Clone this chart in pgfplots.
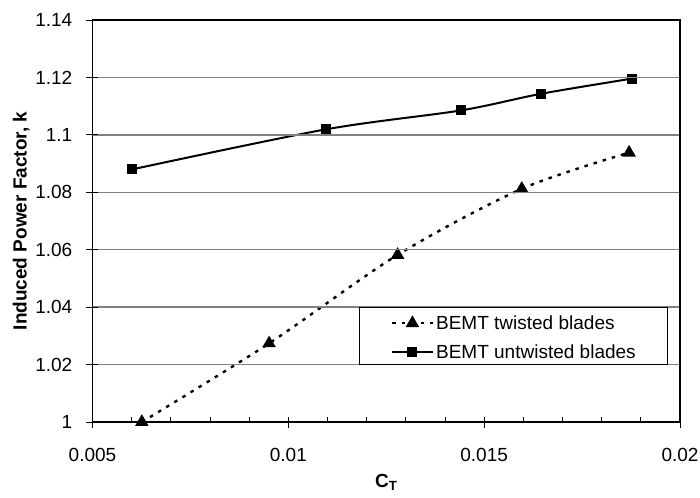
\documentclass[border=0pt]{standalone}
\usepackage{fontspec}
\setmainfont{Liberation Sans}
\usepackage{pgfplots}
\pgfplotsset{compat=1.18}
\begin{document}
\fontsize{19pt}{23pt}\selectfont
\begin{tikzpicture}
\useasboundingbox (-92.5pt,-75pt) rectangle (607.5pt,422pt);
\begin{axis}[
  at={(0pt,0pt)}, anchor=south west,
  scale only axis, width=587.5pt, height=402pt,
  xmin=0.005, xmax=0.02, ymin=1, ymax=1.14,
  axis line style={line width=1.2pt, black},
  axis on top,
  xtick={0.005,0.01,0.015,0.02},
  xticklabels={0.005,0.01,0.015,0.02},
  minor xtick={0.006,0.007,0.008,0.009,0.011,0.012,0.013,0.014,0.016,0.017,0.018,0.019},
  ytick={1,1.02,1.04,1.06,1.08,1.1,1.12,1.14},
  yticklabels={1,1.02,1.04,1.06,1.08,1.1,1.12,1.14},
  scaled x ticks=false, scaled y ticks=false,
  /pgf/number format/assume math mode=true,
  xtick pos=bottom, ytick pos=left,
  tick align=center,
  major tick length=11pt,
  minor tick length=5.5pt,
  tick style={black, line width=0.9pt},
  minor x tick style={yshift=2.75pt},
  major y tick style={xshift=-0.5pt},
  ymajorgrids,
  major grid style={gray, line width=1.3pt},
  xticklabel style={anchor=north, inner sep=0pt, yshift=-21pt},
  yticklabel style={anchor=east, inner sep=0pt, xshift=-14.5pt},
  xlabel={\bfseries C\textsubscript{T}},
  ylabel={\bfseries Induced Power Factor, k},
  every axis x label/.style={at={(axis description cs:0.5,-0.162)}, anchor=base},
  every axis y label/.style={at={(axis description cs:-0.112,0.5)}, rotate=90, anchor=base},
  clip mode=individual,
  legend cell align=left,
  legend style={at={(axis cs:0.0118,1.04)}, anchor=north west, draw=black,
    line width=0.8pt, fill=white, inner xsep=32pt, inner ysep=3pt, row sep=7pt,
    nodes={inner sep=0pt},
    /tikz/every odd column/.append style={column sep=2.5pt}},
  legend image code/.code={\draw[mark repeat=2,mark phase=2,#1] plot coordinates {(0pt,-1.7pt) (20pt,-1.7pt) (40pt,-1.7pt)};},
]
\addplot[black, line width=2.4pt, dash pattern=on 3.5pt off 6pt, smooth, mark=triangle*, mark size=5.4pt, mark options={solid}]
  coordinates {(0.00626,1.0000) (0.00951,1.0274) (0.01279,1.0582) (0.01596,1.0812) (0.01870,1.0938)};
\addlegendentry{\rule[-3.3pt]{0pt}{22.3pt}BEMT twisted blades}
\addplot[black, line width=2pt, smooth, mark=square*, mark size=4pt]
  coordinates {(0.00602,1.0880) (0.01095,1.1019) (0.01440,1.1085) (0.01645,1.1143) (0.01878,1.1196)};
\addlegendentry{\rule[-3.3pt]{0pt}{22.3pt}BEMT untwisted blades}
\end{axis}
\end{tikzpicture}
\end{document}
